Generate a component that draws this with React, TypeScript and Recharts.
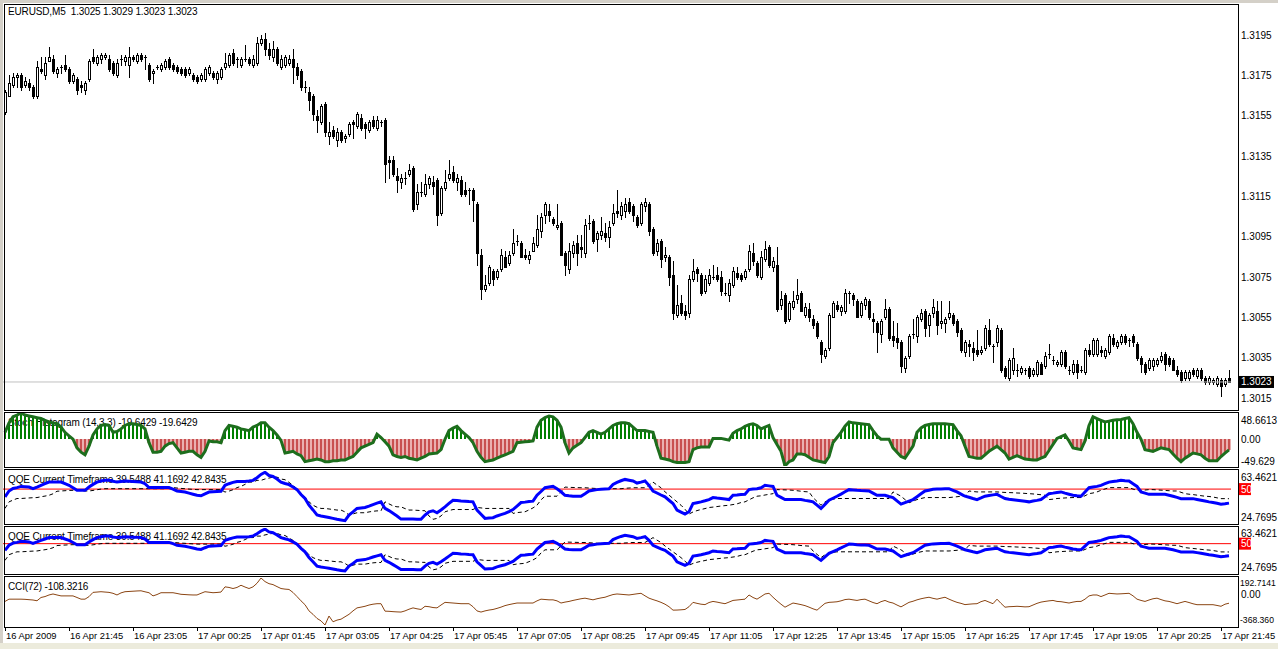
import React from 'react';
import { ComposedChart, Bar, Line, XAxis, YAxis, ReferenceLine } from 'recharts';

const FONT = '"Liberation Sans", Arial, sans-serif';

// ---------- data: EURUSD M5 candles (bar 0 = 16 Apr 2009 20:25) ----------
const openP = [
1.3157,1.3165,1.3170,1.3174,1.3175,1.3170,1.3171,1.3169,1.3165,1.3178,
1.3175,1.3182,1.3183,1.3176,1.3179,1.3180,1.3178,1.3172,1.3173,1.3170,
1.3168,1.3173,1.3184,1.3181,1.3183,1.3184,1.3183,1.3181,1.3175,1.3183,
1.3182,1.3180,1.3184,1.3182,1.3185,1.3184,1.3180,1.3176,1.3179,1.3178,
1.3179,1.3183,1.3180,1.3179,1.3178,1.3178,1.3176,1.3175,1.3174,1.3173,
1.3173,1.3176,1.3176,1.3173,1.3174,1.3179,1.3180,1.3186,1.3183,1.3180,
1.3183,1.3183,1.3180,1.3181,1.3191,1.3193,1.3188,1.3184,1.3188,1.3179,
1.3180,1.3181,1.3183,1.3179,1.3177,1.3169,1.3167,1.3165,1.3155,1.3152,
1.3161,1.3145,1.3148,1.3143,1.3147,1.3144,1.3146,1.3152,1.3150,1.3154,
1.3151,1.3148,1.3153,1.3149,1.3152,1.3153,1.3133,1.3133,1.3125,1.3122,
1.3124,1.3126,1.3129,1.3111,1.3117,1.3116,1.3121,1.3122,1.3123,1.3107,
1.3119,1.3124,1.3127,1.3122,1.3123,1.3118,1.3118,1.3118,1.3111,1.3086,
1.3069,1.3072,1.3078,1.3075,1.3079,1.3085,1.3082,1.3087,1.3093,1.3092,
1.3086,1.3084,1.3088,1.3091,1.3098,1.3106,1.3108,1.3104,1.3100,1.3102,
1.3087,1.3079,1.3087,1.3092,1.3090,1.3087,1.3102,1.3103,1.3094,1.3096,
1.3097,1.3095,1.3102,1.3108,1.3106,1.3108,1.3112,1.3110,1.3105,1.3102,
1.3110,1.3111,1.3099,1.3088,1.3093,1.3085,1.3085,1.3076,1.3056,1.3062,
1.3058,1.3057,1.3074,1.3079,1.3076,1.3068,1.3072,1.3075,1.3076,1.3075,
1.3067,1.3066,1.3071,1.3077,1.3076,1.3075,1.3079,1.3087,1.3082,1.3075,
1.3084,1.3090,1.3080,1.3081,1.3061,1.3066,1.3054,1.3060,1.3064,1.3067,
1.3056,1.3059,1.3054,1.3052,1.3043,1.3036,1.3040,1.3055,1.3061,1.3058,
1.3058,1.3067,1.3066,1.3063,1.3056,1.3061,1.3063,1.3054,1.3052,1.3047,
1.3055,1.3059,1.3046,1.3045,1.3043,1.3030,1.3036,1.3047,1.3046,1.3054,
1.3058,1.3051,1.3057,1.3058,1.3052,1.3052,1.3055,1.3056,1.3053,1.3049,
1.3038,1.3042,1.3040,1.3039,1.3038,1.3040,1.3049,1.3041,1.3043,1.3049,
1.3030,1.3025,1.3029,1.3029,1.3028,1.3029,1.3030,1.3027,1.3027,1.3032,
1.3031,1.3037,1.3034,1.3032,1.3032,1.3038,1.3029,1.3028,1.3032,1.3029,
1.3028,1.3039,1.3037,1.3037,1.3039,1.3036,1.3038,1.3045,1.3041,1.3043,
1.3046,1.3044,1.3046,1.3042,1.3035,1.3032,1.3030,1.3031,1.3032,1.3034,
1.3037,1.3035,1.3034,1.3029,1.3028,1.3025,1.3025,1.3029,1.3026,1.3029,
1.3025,1.3023,1.3023,1.3022,1.3024,1.3022,1.3025];

const highP = [
1.3168,1.3175,1.3176,1.3176,1.3176,1.3174,1.3173,1.3170,1.3182,1.3184,
1.3184,1.3189,1.3185,1.3179,1.3180,1.3185,1.3179,1.3176,1.3174,1.3172,
1.3172,1.3183,1.3188,1.3185,1.3186,1.3186,1.3185,1.3182,1.3183,1.3185,
1.3185,1.3189,1.3185,1.3186,1.3186,1.3185,1.3181,1.3178,1.3180,1.3181,
1.3183,1.3184,1.3181,1.3180,1.3179,1.3179,1.3179,1.3176,1.3175,1.3176,
1.3179,1.3180,1.3177,1.3177,1.3179,1.3186,1.3186,1.3188,1.3184,1.3184,
1.3190,1.3184,1.3185,1.3194,1.3195,1.3196,1.3191,1.3192,1.3189,1.3185,
1.3185,1.3185,1.3188,1.3181,1.3178,1.3172,1.3169,1.3166,1.3158,1.3161,
1.3162,1.3152,1.3150,1.3149,1.3148,1.3146,1.3152,1.3153,1.3157,1.3156,
1.3152,1.3153,1.3155,1.3155,1.3153,1.3154,1.3135,1.3135,1.3129,1.3126,
1.3127,1.3131,1.3130,1.3121,1.3122,1.3126,1.3125,1.3125,1.3124,1.3120,
1.3128,1.3133,1.3130,1.3126,1.3125,1.3122,1.3119,1.3119,1.3112,1.3089,
1.3076,1.3081,1.3079,1.3079,1.3089,1.3088,1.3088,1.3099,1.3096,1.3093,
1.3089,1.3088,1.3095,1.3106,1.3107,1.3112,1.3111,1.3105,1.3111,1.3103,
1.3088,1.3092,1.3093,1.3096,1.3096,1.3104,1.3106,1.3104,1.3098,1.3105,
1.3102,1.3103,1.3111,1.3118,1.3112,1.3114,1.3114,1.3111,1.3106,1.3112,
1.3114,1.3112,1.3100,1.3094,1.3094,1.3090,1.3086,1.3083,1.3071,1.3066,
1.3061,1.3076,1.3084,1.3080,1.3077,1.3076,1.3079,1.3081,1.3080,1.3078,
1.3072,1.3074,1.3080,1.3080,1.3077,1.3079,1.3091,1.3092,1.3083,1.3088,
1.3093,1.3091,1.3085,1.3090,1.3068,1.3067,1.3063,1.3068,1.3074,1.3068,
1.3062,1.3062,1.3056,1.3053,1.3044,1.3040,1.3057,1.3063,1.3063,1.3061,
1.3069,1.3068,1.3067,1.3064,1.3063,1.3065,1.3064,1.3057,1.3053,1.3054,
1.3064,1.3060,1.3053,1.3052,1.3044,1.3036,1.3047,1.3054,1.3056,1.3059,
1.3059,1.3057,1.3064,1.3063,1.3063,1.3055,1.3063,1.3057,1.3054,1.3050,
1.3044,1.3044,1.3043,1.3049,1.3041,1.3051,1.3054,1.3042,1.3051,1.3050,
1.3031,1.3035,1.3040,1.3032,1.3031,1.3030,1.3031,1.3030,1.3034,1.3033,
1.3038,1.3042,1.3036,1.3034,1.3039,1.3039,1.3031,1.3034,1.3034,1.3031,
1.3040,1.3042,1.3045,1.3045,1.3041,1.3040,1.3047,1.3047,1.3044,1.3047,
1.3047,1.3045,1.3047,1.3043,1.3036,1.3033,1.3035,1.3035,1.3035,1.3038,
1.3038,1.3036,1.3035,1.3031,1.3029,1.3029,1.3029,1.3030,1.3030,1.3030,
1.3026,1.3026,1.3025,1.3026,1.3025,1.3025,1.3029];

const lowP = [
1.3156,1.3165,1.3169,1.3169,1.3168,1.3169,1.3168,1.3164,1.3164,1.3176,
1.3173,1.3182,1.3176,1.3174,1.3176,1.3177,1.3171,1.3171,1.3166,1.3167,
1.3166,1.3172,1.3181,1.3180,1.3181,1.3183,1.3177,1.3175,1.3174,1.3180,
1.3180,1.3174,1.3182,1.3181,1.3182,1.3178,1.3172,1.3171,1.3178,1.3177,
1.3178,1.3178,1.3177,1.3176,1.3175,1.3174,1.3175,1.3172,1.3171,1.3172,
1.3172,1.3175,1.3173,1.3171,1.3173,1.3178,1.3179,1.3180,1.3179,1.3179,
1.3182,1.3180,1.3179,1.3180,1.3190,1.3185,1.3183,1.3182,1.3180,1.3178,
1.3179,1.3180,1.3171,1.3173,1.3168,1.3167,1.3158,1.3153,1.3147,1.3151,
1.3145,1.3141,1.3144,1.3140,1.3142,1.3142,1.3145,1.3144,1.3149,1.3148,
1.3144,1.3147,1.3149,1.3148,1.3150,1.3122,1.3124,1.3125,1.3117,1.3119,
1.3121,1.3125,1.3108,1.3109,1.3115,1.3115,1.3119,1.3116,1.3101,1.3106,
1.3118,1.3123,1.3122,1.3118,1.3115,1.3115,1.3111,1.3103,1.3081,1.3064,
1.3068,1.3071,1.3071,1.3074,1.3078,1.3080,1.3081,1.3086,1.3091,1.3085,
1.3084,1.3082,1.3088,1.3090,1.3095,1.3102,1.3103,1.3101,1.3099,1.3086,
1.3076,1.3077,1.3085,1.3081,1.3085,1.3085,1.3099,1.3092,1.3088,1.3094,
1.3093,1.3090,1.3101,1.3105,1.3104,1.3105,1.3107,1.3103,1.3100,1.3101,
1.3108,1.3096,1.3086,1.3086,1.3080,1.3083,1.3071,1.3054,1.3055,1.3056,
1.3054,1.3055,1.3073,1.3073,1.3066,1.3067,1.3071,1.3074,1.3073,1.3066,
1.3066,1.3063,1.3070,1.3074,1.3073,1.3074,1.3078,1.3081,1.3075,1.3074,
1.3083,1.3080,1.3078,1.3058,1.3059,1.3052,1.3053,1.3059,1.3062,1.3058,
1.3055,1.3053,1.3050,1.3045,1.3033,1.3035,1.3039,1.3055,1.3058,1.3056,
1.3057,1.3062,1.3061,1.3055,1.3055,1.3059,1.3054,1.3048,1.3038,1.3043,
1.3054,1.3044,1.3041,1.3040,1.3028,1.3028,1.3035,1.3045,1.3043,1.3053,
1.3046,1.3046,1.3055,1.3047,1.3050,1.3048,1.3054,1.3051,1.3046,1.3038,
1.3036,1.3036,1.3034,1.3036,1.3037,1.3039,1.3041,1.3033,1.3041,1.3028,
1.3025,1.3024,1.3027,1.3026,1.3027,1.3027,1.3025,1.3026,1.3026,1.3027,
1.3030,1.3035,1.3032,1.3031,1.3031,1.3030,1.3027,1.3027,1.3025,1.3028,
1.3027,1.3036,1.3036,1.3036,1.3036,1.3035,1.3037,1.3041,1.3040,1.3042,
1.3042,1.3041,1.3041,1.3034,1.3028,1.3027,1.3029,1.3029,1.3031,1.3033,
1.3029,1.3031,1.3029,1.3026,1.3023,1.3024,1.3024,1.3026,1.3025,1.3024,
1.3022,1.3022,1.3022,1.3021,1.3016,1.3021,1.3023];

const closeP = [
1.3167,1.3171,1.3174,1.3175,1.3169,1.3172,1.3169,1.3165,1.3179,1.3177,
1.3181,1.3184,1.3177,1.3178,1.3179,1.3178,1.3172,1.3175,1.3168,1.3169,
1.3171,1.3182,1.3182,1.3184,1.3185,1.3185,1.3178,1.3176,1.3181,1.3183,
1.3184,1.3184,1.3183,1.3185,1.3183,1.3184,1.3173,1.3177,1.3179,1.3180,
1.3182,1.3179,1.3178,1.3177,1.3176,1.3175,1.3178,1.3173,1.3172,1.3175,
1.3178,1.3179,1.3174,1.3176,1.3178,1.3181,1.3185,1.3181,1.3183,1.3183,
1.3183,1.3181,1.3183,1.3191,1.3193,1.3188,1.3185,1.3188,1.3181,1.3183,
1.3184,1.3183,1.3179,1.3175,1.3169,1.3169,1.3163,1.3156,1.3153,1.3160,
1.3147,1.3147,1.3145,1.3147,1.3143,1.3145,1.3151,1.3151,1.3156,1.3149,
1.3149,1.3152,1.3150,1.3153,1.3152,1.3131,1.3132,1.3126,1.3123,1.3124,
1.3124,1.3128,1.3109,1.3117,1.3117,1.3121,1.3124,1.3120,1.3106,1.3119,
1.3122,1.3126,1.3123,1.3124,1.3116,1.3116,1.3118,1.3113,1.3087,1.3069,
1.3071,1.3080,1.3074,1.3078,1.3086,1.3080,1.3086,1.3092,1.3093,1.3085,
1.3085,1.3086,1.3092,1.3099,1.3105,1.3111,1.3106,1.3102,1.3101,1.3086,
1.3081,1.3088,1.3091,1.3087,1.3089,1.3101,1.3102,1.3093,1.3097,1.3098,
1.3095,1.3100,1.3107,1.3107,1.3110,1.3111,1.3108,1.3106,1.3101,1.3111,
1.3112,1.3098,1.3087,1.3092,1.3084,1.3086,1.3075,1.3057,1.3061,1.3057,
1.3056,1.3074,1.3078,1.3077,1.3067,1.3074,1.3076,1.3075,1.3074,1.3068,
1.3067,1.3072,1.3078,1.3075,1.3074,1.3078,1.3088,1.3083,1.3076,1.3085,
1.3089,1.3081,1.3083,1.3059,1.3064,1.3053,1.3062,1.3063,1.3066,1.3058,
1.3060,1.3055,1.3051,1.3046,1.3037,1.3039,1.3056,1.3062,1.3059,1.3060,
1.3067,1.3067,1.3064,1.3055,1.3062,1.3064,1.3055,1.3053,1.3048,1.3053,
1.3059,1.3045,1.3044,1.3043,1.3031,1.3035,1.3046,1.3047,1.3055,1.3057,
1.3050,1.3056,1.3060,1.3051,1.3053,1.3054,1.3057,1.3052,1.3048,1.3039,
1.3043,1.3041,1.3038,1.3037,1.3039,1.3050,1.3042,1.3041,1.3050,1.3029,
1.3026,1.3034,1.3035,1.3029,1.3030,1.3029,1.3026,1.3029,1.3033,1.3027,
1.3036,1.3037,1.3034,1.3033,1.3038,1.3031,1.3029,1.3032,1.3028,1.3029,
1.3039,1.3037,1.3044,1.3044,1.3038,1.3039,1.3046,1.3042,1.3043,1.3046,
1.3043,1.3044,1.3043,1.3035,1.3032,1.3028,1.3034,1.3034,1.3034,1.3036,
1.3032,1.3032,1.3029,1.3027,1.3024,1.3028,1.3028,1.3027,1.3029,1.3025,
1.3023,1.3025,1.3024,1.3025,1.3021,1.3024,1.3023];

// Stoch Histogram (14,3,3)
const stochHist = [
12.8,30.4,41.6,44.8,48.66,44.8,43.2,41.6,40,38.4,
35.2,32,30.4,28.8,22.4,12.8,6.4,0,-16,-24,
-28.8,-12.8,8,19.2,25.6,27.2,25.6,12.8,14.4,19.2,
25.6,28.8,28.8,27.2,25.6,19.2,-6.4,-24,-24,-22.4,
-12.8,-8,-6.4,-16,-25.6,-24,-22.4,-22.4,-28.8,-33.6,
-22.4,-3.2,-4.8,-4.8,-6.4,16,25.6,24,22.4,19.2,
17.6,16,22.4,25.6,30.4,30.4,22.4,16,8,-2,
-25.6,-24,-22.4,-27.2,-30.4,-41.6,-40,-38.4,-36.8,-38.4,
-41.6,-41.6,-40,-40,-38.4,-38.4,-35.2,-32,-24,-16,
-12.8,-9.6,-6.4,9.6,3.2,-4.8,-12.8,-28.8,-32,-33.6,
-32,-35.2,-36.8,-38.4,-35.2,-32,-27.2,-26.4,-25.6,-19.2,
0,16,20.8,24,16,9.6,3.2,-6.4,-22.4,-33.6,
-41.6,-40,-38.4,-35.2,-32,-28.8,-25.6,-22.4,-6.4,-5.6,
-4.8,-4,-3.2,22.4,35.2,40,43.2,41.6,35.2,22.4,
-6.4,-25.6,-16,-11.2,-6.4,3.2,12.8,16,12.8,9.6,
12.8,19.2,25.6,28.8,30.4,30.4,28.8,22.4,16,16,
16,14.4,12.8,-12.8,-35.2,-36.8,-38.4,-41.6,-43.2,-43.2,
-43.2,-41.6,-19.2,-16,-14.4,-14.4,-14.4,1.6,1.6,1.6,
0,-1.6,11.2,16,19.2,24,27.2,28.8,25.6,19.2,
22.4,25.6,3.2,-9.6,-22.4,-49.6,-41.6,-38.4,-27.2,-27.2,
-28.8,-33.6,-38.4,-40,-41.6,-43.2,-32,-6.4,3.2,12.8,
24,32,30.4,29.6,28.8,28,27.2,16,6.4,0,
0,0,-16,-24,-32,-35.2,-24,-12.8,12.8,20.8,
25.6,27.2,28.8,28.8,28.8,28.8,28,27.2,16,6.4,
-12.8,-32,-33.6,-35.2,-35.2,-28.8,-22.4,-17.6,-12.8,-19.2,
-25.6,-36.8,-33.6,-30.4,-33.6,-36.8,-37.6,-38.4,-38.4,-35.2,
-32,-20.8,-9.6,1.6,4.8,8,-3.2,-16,-17.6,-19.2,
-3.2,25.6,41.6,38.4,35.2,32,33.6,35.2,36,36.8,
38.4,40,28.8,12.8,0,-19.2,-20.8,-22.4,-19.2,-16,
-17.6,-19.2,-27.2,-35.2,-41.6,-35.2,-30.4,-25.6,-27.2,-28.8,
-35.2,-40,-40,-40,-32,-25.6,-19.6429];

// QQE Current Timeframe: RSI MA (blue) and trailing level (dashed)
const qqeRsi = [
44.2,48.6,50.5,51.1,52,51.8,51.5,50.3,51.5,52.8,
54,55.2,55.2,55.2,55.2,54,52.8,51,49.1,49.1,
49.1,51.5,53.5,55.2,56,56.5,56.5,55.8,55.2,55.6,
56,55.8,55.6,55.4,55.2,54,51.1,51.1,51.1,51.1,
51.1,51.1,50,48.6,48.2,47.8,47,46.2,45.4,45,
46.5,47.8,48,48.2,48.3,52.8,54,55,55.7,55.7,
55.7,56,56.5,58.5,60.9,62.5,60.1,59.4,57.5,55.2,
54.2,53.3,51.5,49.6,46,43,38,34.5,30.7,30,
29.4,28.8,28.2,27.5,27,26.5,30.7,33,35.6,36,
36.3,37.3,38.5,39.5,40.5,35.6,34,32,30,27.7,
27.7,27.7,27.7,27.6,27.5,30.7,33.1,33.9,32.4,34.5,
36.8,39.3,41.7,41.5,41.2,41,40.7,40.5,34.4,31.3,
28.2,28.5,28.7,30,31,31.9,33.3,34.8,37.4,40,
40.3,40.7,41,45.4,48.2,51,51.5,52,50.3,48,
45.4,45,44.7,44.7,44.7,46.6,48.6,49.1,49.6,49.9,
50.1,50.3,53.5,55,56.2,57.2,56.6,56,54.5,55.2,
56,52.8,48.6,47.1,45.6,44.2,41.7,39.3,34.4,32.9,
31.4,33.1,39.3,39.9,40.5,41.3,42.2,43.7,43.3,43,
42.6,42.2,45.4,45.6,45.9,46.1,49.6,50,50.3,51,
52.8,52.4,52,45.4,43.8,42.2,42.2,42.2,42.2,42.2,
41.6,41.1,40.5,38,35.6,38.6,41.7,43.2,44.7,46.3,
48,49.6,49.4,49.1,48.9,48.8,48.6,47,45.4,45.4,
45.4,44.5,43.7,41.2,38.8,40,41.1,42.2,44.3,46.5,
48.6,49.2,49.8,50,50.1,50.2,50.3,49.1,47.9,46.3,
44.7,43.9,43,42.2,43.4,44.7,45.2,45.7,46.1,44.5,
43,42.5,42.1,41.7,41.3,40.9,40.5,41.1,41.6,42.2,
44.4,46.6,47,47.5,47.9,47,46.2,45.4,45,44.7,
47.9,51,51.5,52,52.8,54,55.2,55.6,56,56.5,
56.2,56,54,52,47.9,47,46.1,46.1,46.1,46.1,
46.1,45.4,44.7,43.8,42.9,42.9,42.9,42.9,42.3,41.7,
41.1,40.5,40,39.4,38.8,39.1,39.5488];

const qqeTrail = [
35.6,40.5,41.8,43,43,43.2,43.4,43.6,43.7,44.3,
44.8,45.4,46.5,48.4,48.6,48.8,49,49.1,49.1,48.8,
48.6,48.6,49,49.5,50,50.3,50.3,50.3,50.3,50.3,
50.3,50.3,50.3,50.3,50.3,50.3,50.3,50.3,50.3,50.3,
50.3,51.1,51.1,50.8,50.5,50.3,50,49.8,49.6,49.6,
49.6,49.6,49.6,49.6,49.6,47.8,48.5,49.5,51.1,52,
53.5,55.2,55.2,56.5,56.5,57.5,58.2,58.9,58.9,57.5,
57,55,52.8,50,46.7,44,40.5,38,36.5,35.6,
35.6,35.2,34.8,34.4,34.4,33,30.7,31.5,32.4,32.4,
32.4,33,33.5,33.8,33.8,40.5,39,37.5,36.8,36.8,
35.5,34.4,34.4,34.2,34,33.9,30,27.5,28.2,30,
33.1,34,34.8,34.8,34.8,34.8,34.8,34.8,36.3,36,
35.6,35.6,35.6,35.6,35.6,35.6,35.6,31.9,32.5,32.8,
33.1,34.5,36,38,42,44.7,44.7,44.7,44.7,48,
51.5,51.3,51.2,51.1,51,51,50.8,50.6,50.4,50.3,
50.3,50.3,50.3,50.3,50.3,50.6,50.8,51,51,51,
51,53,55.2,53,51,48,45.5,43,40.5,38,
35,31.4,33,34,34.8,35.5,36.3,36.6,37,37.4,
37.7,38,38.5,39,40,40.5,42,43.5,44.7,45,
45.6,46.1,46.6,49.6,49.5,49.4,49.3,49.1,48.8,48.4,
48.1,47.9,43.7,40.8,38,40.5,41.7,42.5,43,43,
43,43,43,43,43,43,43,43,43,43,
43,43,47.9,46.3,44.7,42.2,39.8,41,42.2,43,
43.7,43.7,43.7,43.7,43.7,43.7,43.7,44,44.3,44.7,
44.7,48.6,48.2,47.9,47.9,47.9,47.9,47.9,47.9,47.7,
47.5,47.4,47.3,47.1,47,46.8,46.6,46.4,46.1,45.8,
45.4,42.2,42.5,43,43.2,43.4,43.6,43.7,43.7,43.7,
45,46.6,47.1,47.9,49.1,50.1,51.1,51.1,51.1,51.1,
51.1,51.1,50,49.1,49.1,49.3,49.6,49.6,49.4,49.2,
49,48.8,48.6,48.6,47.6,46.6,46.2,45.9,45.5,45.1,
44.7,44.5,44.1,43.5,42.9,42.9,42.8435];

// CCI(72)
const cci72 = [
-87,-60,-60,-60,-60,-62,-66,-70,-79,-40,
-29,-10,2,-10,-21,-21,-21,-21,-40,-60,
-60,-30,21,25,29,25,21,10,-10,15,
29,32,35,38,40,28,17,-21,-5,17,
17,17,17,8,-2,-5,-8,-10,-10,10,
29,23,17,20,25,87,80,67,80,106,
85,67,87,130,192.7,150,125,114,90,67,
60,56,20,-29,-80,-126,-200,-241,-290,-319,
-368.36,-261,-330,-310,-299,-270,-241,-200,-164,-155,
-145,-130,-120,-114,-114,-203,-205,-209,-212,-214,
-200,-180,-164,-175,-183,-145,-150,-160,-164,-130,
-98,-102,-106,-110,-114,-114,-114,-150,-200,-214,
-200,-190,-183,-170,-155,-137,-125,-115,-106,-106,
-106,-106,-106,-80,-60,-64,-68,-68,-80,-106,
-95,-87,-75,-65,-55,-48,-58,-68,-55,-45,
-37,-20,-5,2,-2,-6,-10,-3,4,10,
-20,-48,-65,-80,-98,-120,-150,-191,-190,-187,
-183,-150,-98,-110,-120,-125,-100,-87,-95,-105,
-114,-95,-75,-70,-65,-60,-10,-40,-60,-30,
2,10,-37,-80,-120,-156,-130,-106,-115,-125,
-137,-155,-175,-191,-150,-110,-98,-95,-91,-80,
-65,-60,-68,-75,-65,-60,-80,-100,-114,-90,
-75,-95,-106,-130,-152,-125,-98,-85,-68,-55,
-45,-37,-50,-60,-48,-37,-60,-80,-98,-110,
-125,-120,-116,-114,-90,-75,-95,-114,-60,-110,
-156,-150,-148,-145,-148,-152,-150,-130,-110,-95,
-87,-80,-75,-87,-90,-98,-106,-95,-87,-87,
-60,-21,-10,-10,-29,-10,10,6,2,4,
7,10,-20,-60,-75,-87,-70,-55,-48,-65,
-80,-87,-100,-114,-100,-87,-100,-115,-126,-126,
-126,-126,-126,-135,-145,-120,-108.3216];

// ---------- axis ticks & labels ----------
const timeTickBars = [0,16,32,48,64,80,96,112,128,144,160,176,192,208,224,240,256,272,288,304];
const timeTickLabels = ['16 Apr 2009','16 Apr 21:45','16 Apr 23:05','17 Apr 00:25','17 Apr 01:45','17 Apr 03:05','17 Apr 04:25','17 Apr 05:45','17 Apr 07:05','17 Apr 08:25','17 Apr 09:45','17 Apr 11:05','17 Apr 12:25','17 Apr 13:45','17 Apr 15:05','17 Apr 16:25','17 Apr 17:45','17 Apr 19:05','17 Apr 20:25','17 Apr 21:45'];

const lastPrice = 1.3023;
const priceTicks = [1.3195,1.3175,1.3155,1.3135,1.3115,1.3095,1.3075,1.3055,1.3035,1.3015,lastPrice];
const priceLabels = ['1.3195','1.3175','1.3155','1.3135','1.3115','1.3095','1.3075','1.3055','1.3035','1.3015','1.3023'];
const priceDomain = [1.30096, 1.32099];

const stochTicks = [48.6613, 0, -49.629];
const stochLabels = ['48.6613', '0.00', '-49.629'];
const qqeTicks = [63.4621, 50, 24.7695];
const qqeLabels = ['63.4621', '50', '24.7695'];
const cciTicks = [192.7141, 0, -368.36];
const cciLabels = ['192.7141', '0.00', '-368.360'];

const titleMain = 'EURUSD,M5  1.3025 1.3029 1.3023 1.3023';
const titleStoch = 'Stoch Histogram (14,3,3) -19.6429 -19.6429';
const titleQqe = 'QQE Current Timeframe 39.5488 41.1692 42.8435';
const titleCci = 'CCI(72) -108.3216';

const rows = openP.map((o, i) => ({
  i, o, h: highP[i], l: lowP[i], c: closeP[i],
  range: [lowP[i], highP[i]],
  stoch: stochHist[i], rsi: qqeRsi[i], trail: qqeTrail[i], cci: cci72[i],
}));

const W = 1278;
const AXIS_W = 47;
const X_DOMAIN = [-0.5, rows.length - 0.5];

function Candle(props: any) {
  const { x, y, width, height, payload } = props;
  if (!payload) return null;
  const { o, h, l, c } = payload;
  const top0 = height >= 0 ? y : y + height;
  const hh = Math.abs(height);
  const span = h - l;
  const py = (v: number) => (span > 0 ? top0 + ((h - v) / span) * hh : top0);
  const cx = Math.round(x + width / 2);
  const yh = Math.round(py(h));
  const yl = Math.round(py(l));
  const bt = Math.round(py(Math.max(o, c)));
  const bb = Math.round(py(Math.min(o, c)));
  let body;
  if (bb - bt < 1) {
    body = <rect x={cx - 1} y={bt} width={3} height={1} fill="#000" shapeRendering="crispEdges" />;
  } else if (c > o) {
    body = <rect x={cx - 0.5} y={bt + 0.5} width={2} height={bb - bt} fill="#fff" stroke="#000" strokeWidth={1} shapeRendering="crispEdges" />;
  } else {
    body = <rect x={cx - 1} y={bt} width={3} height={bb - bt + 1} fill="#000" shapeRendering="crispEdges" />;
  }
  return (
    <g>
      <line x1={cx + 0.5} x2={cx + 0.5} y1={yh} y2={yl + 1} stroke="#000" strokeWidth={1} shapeRendering="crispEdges" />
      {body}
    </g>
  );
}

function StochBar(props: any) {
  const { x, y, width, height, payload } = props;
  if (!payload) return null;
  const top = height >= 0 ? y : y + height;
  const hh = Math.abs(height);
  const cx = Math.round(x + width / 2);
  if (payload.stoch >= 0) {
    return <rect x={cx - 1} y={top} width={2} height={hh} fill="#008000" shapeRendering="crispEdges" />;
  }
  return (
    <g>
      <rect x={cx - 2} y={top} width={4} height={hh} fill="#eab0b0" shapeRendering="crispEdges" />
      <rect x={cx - 1} y={top} width={2} height={hh} fill="#c85050" shapeRendering="crispEdges" />
    </g>
  );
}

function makeRightTick(ticks: number[], labels: string[], shifts: number[], boxIdx: number, boxFill: string, boxW: number) {
  return function RightTick(props: any) {
    const { x, y, payload } = props;
    const k = ticks.indexOf(payload.value);
    if (k < 0) return <g />;
    const ty = y + shifts[k];
    const label = labels[k];
    const long = label.length > 7;
    if (k === boxIdx) {
      return (
        <g>
          <rect x={x + 8} y={ty - 6} width={boxW} height={12} fill={boxFill} />
          <text x={x + 10} y={ty} dy="0.35em" fontSize={10} fontFamily={FONT} fill="#fff">{label}</text>
        </g>
      );
    }
    return (
      <text x={x + (long ? 9 : 10)} y={ty} dy="0.35em" fontSize={long ? 8.6 : 10} fontFamily={FONT} fill="#000">{label}</text>
    );
  };
}

const PriceTick = makeRightTick(priceTicks, priceLabels, priceTicks.map(() => 0), priceTicks.length - 1, '#000', 35);
const StochTick = makeRightTick(stochTicks, stochLabels, [7, 0, -5], -1, '', 0);
const Qqe1Tick = makeRightTick(qqeTicks, qqeLabels, [6, 0, -6], 1, '#ff0000', 12);
const Qqe2Tick = makeRightTick(qqeTicks, qqeLabels, [5, 0, -6], 1, '#ff0000', 12);
const CciTick = makeRightTick(cciTicks, cciLabels, [5, 0, -5], -1, '', 0);

function TimeTick(props: any) {
  const { x, y, payload } = props;
  const k = timeTickBars.indexOf(payload.value);
  if (k < 0) return <g />;
  return (
    <g>
      <line x1={x + 0.5} x2={x + 0.5} y1={y + 2} y2={y + 6} stroke="#000" shapeRendering="crispEdges" />
      <text x={x + 1} y={y + 14} fontSize={9.4} fontFamily={FONT} fill="#000">{timeTickLabels[k]}</text>
    </g>
  );
}

const MARGIN = { top: 0, right: 0, bottom: 0, left: 3 };

function paneStyle(top: number): React.CSSProperties {
  return { position: 'absolute', left: 0, top, zIndex: 2 };
}

const frames = [
  { top: 4, h: 407 },
  { top: 412, h: 56 },
  { top: 469, h: 56 },
  { top: 526, h: 49 },
  { top: 576, h: 52 },
];

const titles = [
  { text: titleMain, top: 6 },
  { text: titleStoch, top: 417 },
  { text: titleQqe, top: 474 },
  { text: titleQqe, top: 531 },
  { text: titleCci, top: 581 },
];

export default function App() {
  return (
    <div style={{ position: 'absolute', left: 0, top: 0, width: W, height: 649, background: '#ffffff', overflow: 'hidden', fontFamily: FONT }}>
      <div style={{ position: 'absolute', left: 0, top: 0, width: W, height: 3, background: '#d4d0c8' }} />
      <div style={{ position: 'absolute', left: 0, top: 0, width: 3, height: 649, background: '#d4d0c8' }} />
      <div style={{ position: 'absolute', left: 0, top: 643, width: W, height: 6, background: '#ecebdc' }} />

      {titles.map((t, k) => (
        <div key={k} style={{ position: 'absolute', left: 8, top: t.top, fontSize: 10, lineHeight: '12px', whiteSpace: 'pre', color: '#000', zIndex: 1, letterSpacing: '-0.15px' }}>{t.text}</div>
      ))}

      {/* main price pane */}
      <div style={paneStyle(0)}>
        <ComposedChart width={W} height={409} data={rows} margin={{ ...MARGIN, top: 5 }} barCategoryGap={0} barGap={0}>
          <XAxis dataKey="i" type="number" domain={X_DOMAIN} allowDataOverflow hide />
          <YAxis orientation="right" width={AXIS_W} domain={priceDomain} allowDataOverflow ticks={priceTicks} interval={0} tick={PriceTick} tickSize={0} tickMargin={0} axisLine={false} tickLine={false} />
          <ReferenceLine y={lastPrice} stroke="#c0c0c0" strokeWidth={1} />
          <Bar dataKey="range" shape={Candle} isAnimationActive={false} />
        </ComposedChart>
      </div>

      {/* stoch histogram pane */}
      <div style={paneStyle(413)}>
        <ComposedChart width={W} height={53} data={rows} margin={MARGIN} barCategoryGap={0} barGap={0}>
          <XAxis dataKey="i" type="number" domain={X_DOMAIN} allowDataOverflow hide />
          <YAxis orientation="right" width={AXIS_W} domain={[-49.629, 48.6613]} allowDataOverflow ticks={stochTicks} interval={0} tick={StochTick} tickSize={0} tickMargin={0} axisLine={false} tickLine={false} />
          <Bar dataKey="stoch" shape={StochBar} isAnimationActive={false} />
          <Line dataKey="stoch" type="linear" stroke="#1d6e1d" strokeWidth={3} dot={false} activeDot={false} isAnimationActive={false} />
        </ComposedChart>
      </div>

      {/* QQE pane 1 */}
      <div style={paneStyle(471)}>
        <ComposedChart width={W} height={52} data={rows} margin={MARGIN}>
          <XAxis dataKey="i" type="number" domain={X_DOMAIN} allowDataOverflow hide />
          <YAxis orientation="right" width={AXIS_W} domain={[24.7695, 63.4621]} allowDataOverflow ticks={qqeTicks} interval={0} tick={Qqe1Tick} tickSize={0} tickMargin={0} axisLine={false} tickLine={false} />
          <ReferenceLine y={50} stroke="#ff0000" strokeWidth={1} />
          <Line dataKey="trail" type="linear" stroke="#000" strokeWidth={1} strokeDasharray="4 3" dot={false} activeDot={false} isAnimationActive={false} />
          <Line dataKey="rsi" type="linear" stroke="#0000ff" strokeWidth={3} dot={false} activeDot={false} isAnimationActive={false} />
        </ComposedChart>
      </div>

      {/* QQE pane 2 */}
      <div style={paneStyle(528)}>
        <ComposedChart width={W} height={45} data={rows} margin={MARGIN}>
          <XAxis dataKey="i" type="number" domain={X_DOMAIN} allowDataOverflow hide />
          <YAxis orientation="right" width={AXIS_W} domain={[24.7695, 63.4621]} allowDataOverflow ticks={qqeTicks} interval={0} tick={Qqe2Tick} tickSize={0} tickMargin={0} axisLine={false} tickLine={false} />
          <ReferenceLine y={50} stroke="#ff0000" strokeWidth={1} />
          <Line dataKey="trail" type="linear" stroke="#000" strokeWidth={1} strokeDasharray="4 3" dot={false} activeDot={false} isAnimationActive={false} />
          <Line dataKey="rsi" type="linear" stroke="#0000ff" strokeWidth={3} dot={false} activeDot={false} isAnimationActive={false} />
        </ComposedChart>
      </div>

      {/* CCI pane with time axis */}
      <div style={paneStyle(578)}>
        <ComposedChart width={W} height={67} data={rows} margin={MARGIN}>
          <XAxis dataKey="i" type="number" domain={X_DOMAIN} allowDataOverflow ticks={timeTickBars} interval={0} tick={TimeTick} tickSize={0} tickMargin={0} axisLine={false} tickLine={false} height={20} />
          <YAxis orientation="right" width={AXIS_W} domain={[-368.36, 192.7141]} allowDataOverflow ticks={cciTicks} interval={0} tick={CciTick} tickSize={0} tickMargin={0} axisLine={false} tickLine={false} />
          <Line dataKey="cci" type="linear" stroke="#8b4513" strokeWidth={1} dot={false} activeDot={false} isAnimationActive={false} />
        </ComposedChart>
      </div>

      {frames.map((f, k) => (
        <div key={k} style={{ position: 'absolute', left: 4, top: f.top, width: 1235, height: f.h, border: '1px solid #000', boxSizing: 'border-box', pointerEvents: 'none', zIndex: 3 }} />
      ))}
    </div>
  );
}
